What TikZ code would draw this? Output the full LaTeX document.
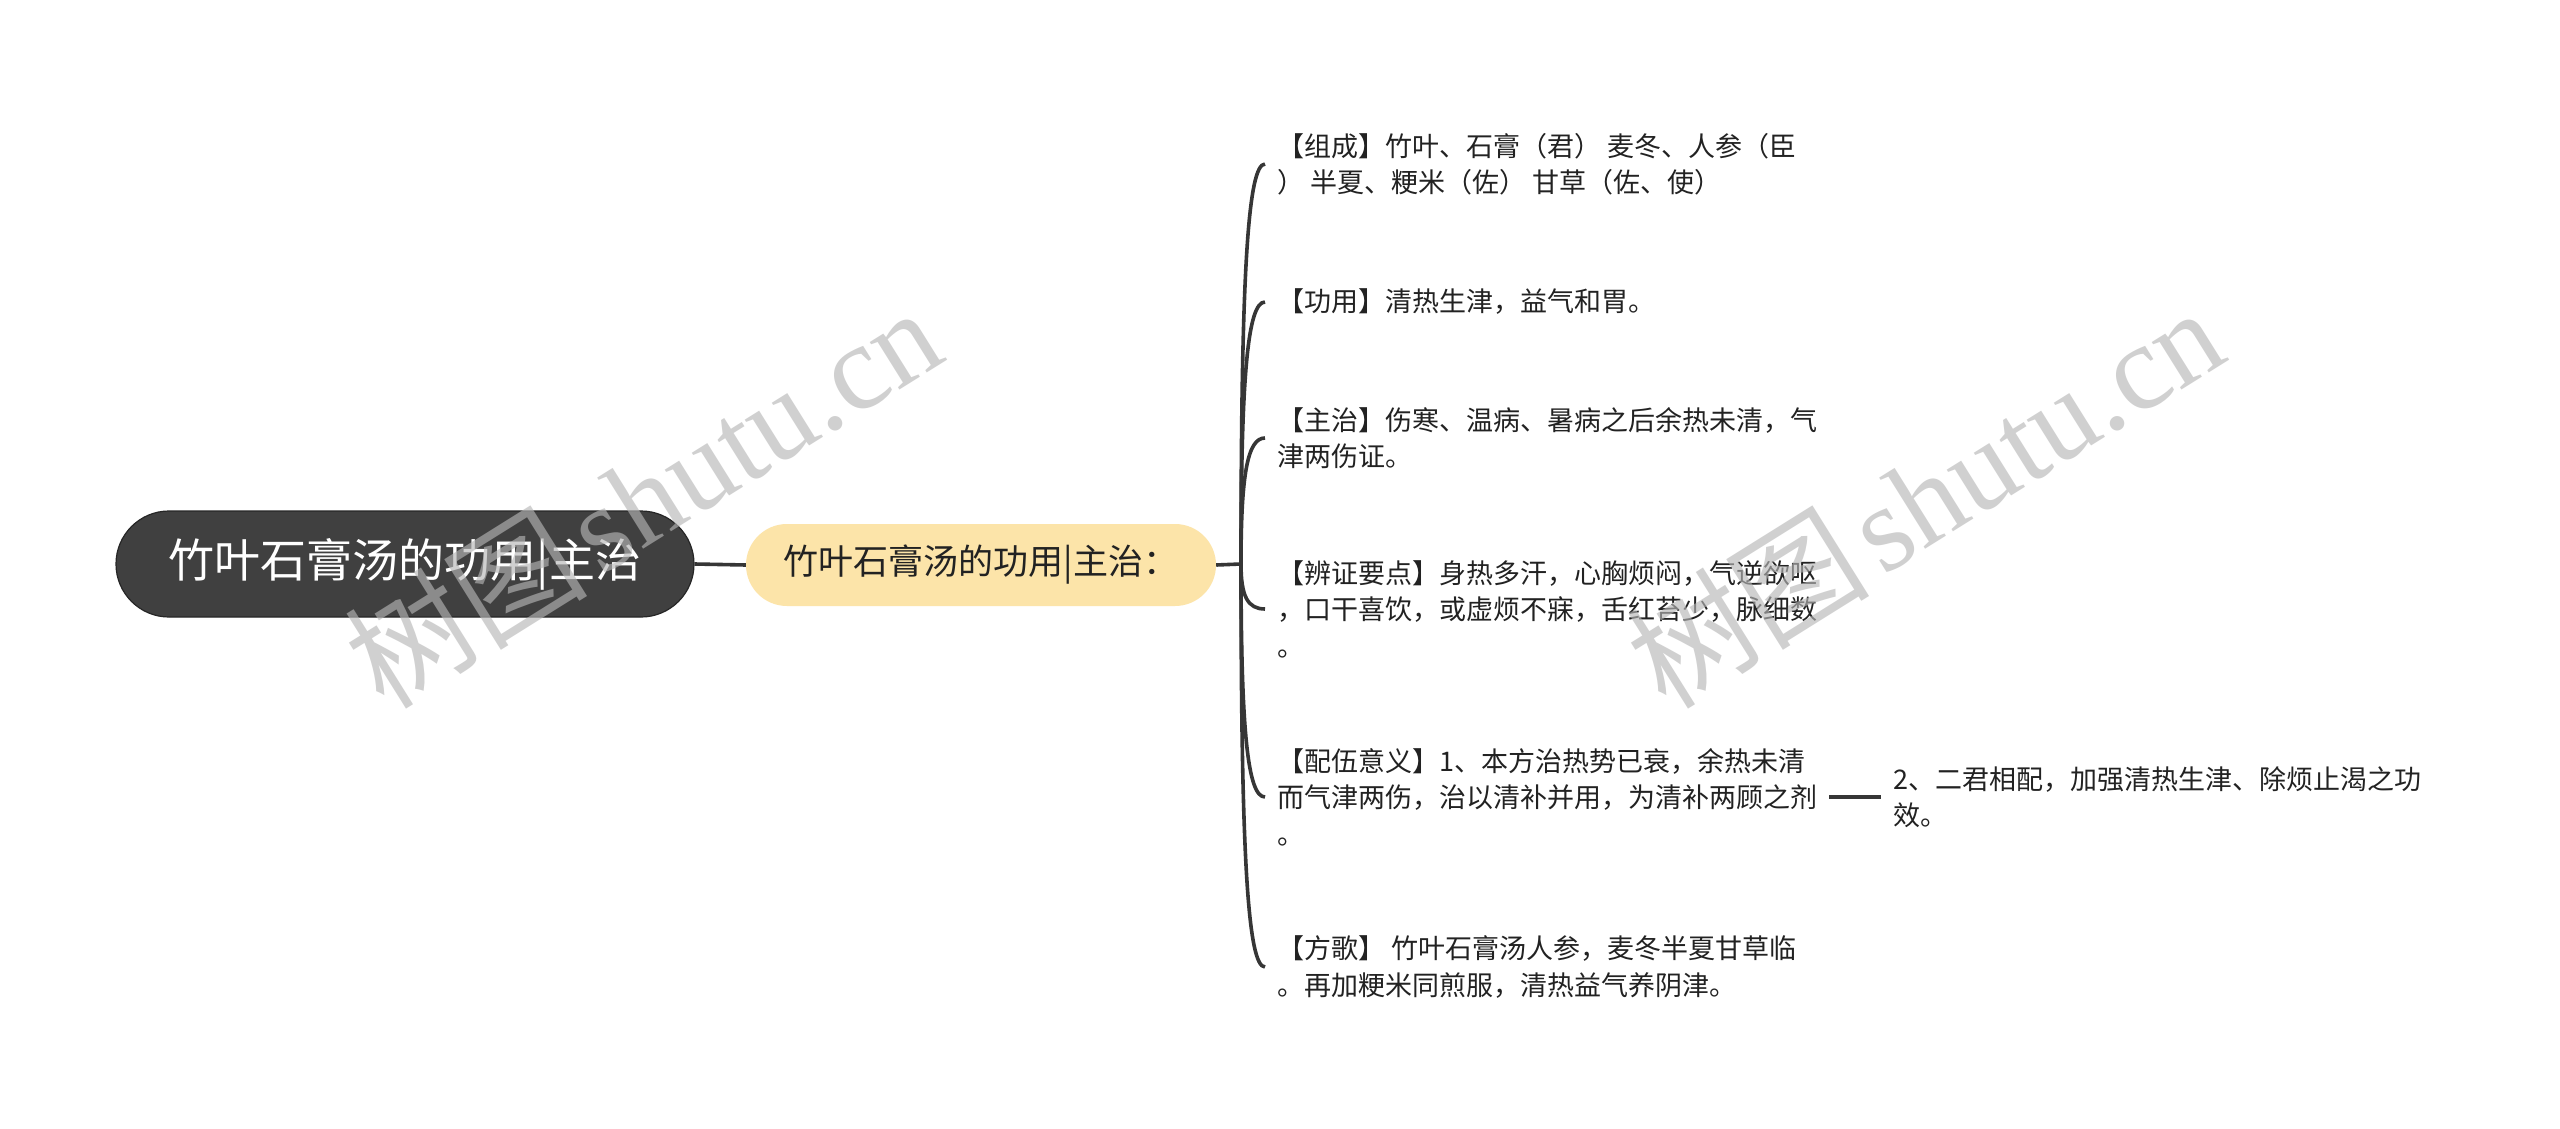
\documentclass[tikz,border=0pt]{standalone}
\usepackage{fontspec}
\setmainfont{Noto Sans CJK SC}
\newfontfamily\wmlatin{Liberation Serif}
\usetikzlibrary{calc}
\definecolor{rootfill}{HTML}{404040}
\definecolor{rootdraw}{HTML}{262626}
\definecolor{subfill}{HTML}{FCE4A9}
\definecolor{linec}{HTML}{363636}
\definecolor{txt}{HTML}{222222}
\definecolor{wm}{HTML}{B6B6B6}
\begin{document}
\begin{tikzpicture}[x=1pt,y=-1pt,
  rootbox/.style={rectangle, rounded corners=53pt, fill=rootfill, draw=rootdraw, line width=1.2pt,
    minimum width=578pt, minimum height=106pt, text=white, font=\fontsize{46}{54}\selectfont, inner sep=0pt},
  subbox/.style={rectangle, rounded corners=41pt, fill=subfill, minimum width=470pt, minimum height=82pt,
    text=txt, font=\fontsize{35}{40}\selectfont, inner sep=0pt},
  leaf/.style={anchor=west, align=left, text=txt, font=\fontsize{27}{36.5}\selectfont, inner xsep=12pt, inner ysep=4pt},
  conn/.style={draw=linec, line width=3.6pt},
  wmark/.style={text=wm, opacity=0.64, rotate=32, anchor=base west, inner sep=0pt, font=\fontsize{122}{126}\selectfont}
]
\useasboundingbox (0,0) rectangle (2560,1129);
\fill[white] (0,0) rectangle (2560,1129);

\node[rootbox] (root) at (405,564) {竹叶石膏汤的功用|主治};
\node[subbox] (sub) at (981,565) {竹叶石膏汤的功用|主治：};

\node[leaf] (c1) at (1265,164) {【组成】竹叶、石膏（君） 麦冬、人参（臣\\） 半夏、粳米（佐） 甘草（佐、使）};
\node[leaf] (c2) at (1265,302) {【功用】清热生津，益气和胃。};
\node[leaf] (c3) at (1265,438) {【主治】伤寒、温病、暑病之后余热未清，气\\津两伤证。};
\node[leaf] (c4) at (1265,609) {【辨证要点】身热多汗，心胸烦闷，气逆欲呕\\，口干喜饮，或虚烦不寐，舌红苔少，脉细数\\。};
\node[leaf] (c5) at (1265,797) {【配伍意义】1、本方治热势已衰，余热未清\\而气津两伤，治以清补并用，为清补两顾之剂\\。};
\node[leaf] (c6) at (1265,967) {【方歌】 竹叶石膏汤人参，麦冬半夏甘草临\\。再加粳米同煎服，清热益气养阴津。};
\node[leaf] (c5r) at (1881,797) {2、二君相配，加强清热生津、除烦止渴之功\\效。};

\draw[conn] (root.east) -- (sub.west);
\coordinate (T) at (1241,564);
\draw[conn] (sub.east) -- (T);
\foreach \c in {c1,c2,c3,c4,c5,c6}{
  \coordinate (k\c) at (T |- \c.west);
  \draw[conn] (T) .. controls ($(T)!0.72!(k\c)$) and ($(\c.west)!0.72!(k\c)$) .. (\c.west);
}
\draw[conn] (c5.east) -- (c5r.west);

\node[wmark] (wm1) at (384,712) {树图\hspace{0.1em}{\wmlatin shutu.cn}};
\node[wmark] (wm2) at (1666,712) {树图\hspace{0.1em}{\wmlatin shutu.cn}};
\end{tikzpicture}
\end{document}
